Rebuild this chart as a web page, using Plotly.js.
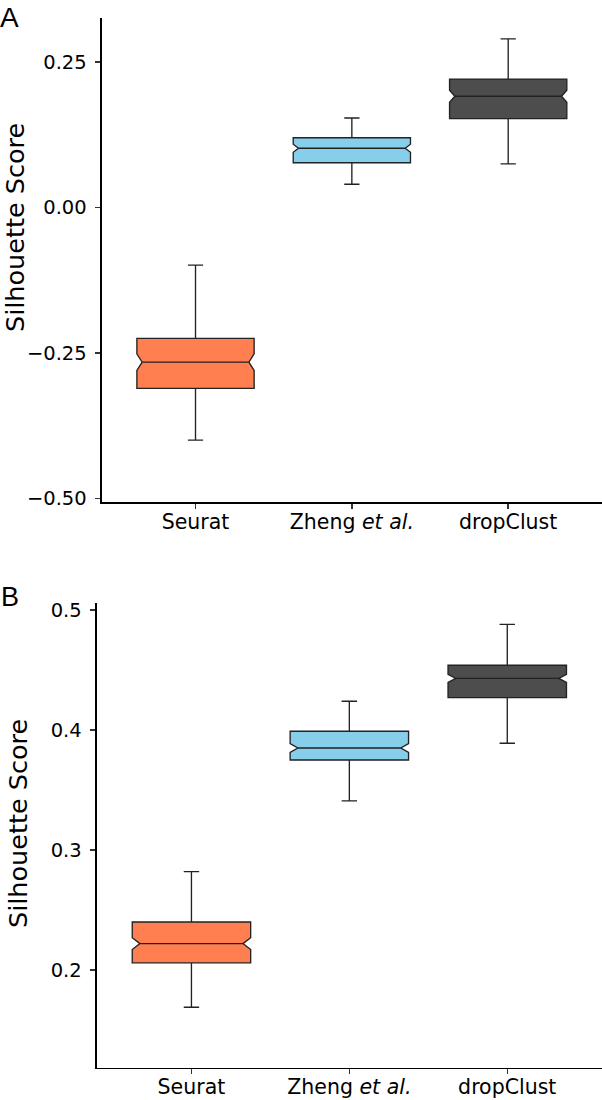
<!DOCTYPE html>
<html>
<head>
<meta charset="utf-8">
<script src="https://cdn.plot.ly/plotly-3.0.1.min.js"></script>
<style>html,body{margin:0;padding:0;background:#fff;}#chart{width:602px;height:1100px;}</style>
</head>
<body>
<div id="chart"></div>
<script>
// Categories and tick labels
const categories = ["Seurat", "Zheng <i>et al.</i>", "dropClust"];
const boxColors = ["#FF7F50", "#87CEEB", "#4D4D4D"];

// Panel A values
const lowA   = [-0.400, 0.040, 0.075];
const q1A    = [-0.311, 0.077, 0.153];
const medA   = [-0.266, 0.102, 0.1915];
const q3A    = [-0.225, 0.120, 0.221];
const upA    = [-0.099, 0.154, 0.290];
const notchA = [0.0143, 0.0069, 0.0103];
const ticksA = [-0.50, -0.25, 0.00, 0.25];

// Panel B values
const lowB   = [0.169, 0.341, 0.389];
const q1B    = [0.206, 0.375, 0.427];
const medB   = [0.222, 0.385, 0.443];
const q3B    = [0.240, 0.399, 0.454];
const upB    = [0.282, 0.424, 0.488];
const notchB = [0.0049, 0.0036, 0.0033];
const ticksB = [0.2, 0.3, 0.4, 0.5];

const traces = [];
function addBoxes(low, q1, med, q3, up, notch, xa, ya, nw) {
  categories.forEach((c, i) => {
    traces.push({
      type: "box", x: [c], xaxis: xa, yaxis: ya,
      lowerfence: [low[i]], q1: [q1[i]], median: [med[i]], q3: [q3[i]], upperfence: [up[i]],
      notched: true, notchspan: [notch[i]], notchwidth: nw,
      width: 0.75, whiskerwidth: 0.13, boxpoints: false,
      fillcolor: boxColors[i], line: {color: "#222222", width: 1.35},
      showlegend: false, hoverinfo: "skip"
    });
  });
}
addBoxes(lowA, q1A, medA, q3A, upA, notchA, "x", "y", 0.045);
addBoxes(lowB, q1B, medB, q3B, upB, notchB, "x2", "y2", 0.065);

const W = 602, H = 1100;
const tickFont = {family: "DejaVu Sans", size: 19.5, color: "#000"};
const xTickFont = {family: "DejaVu Sans", size: 20.5, color: "#000"};
function xAxis(domain, anchor) {
  return {domain: domain, anchor: anchor, type: "category", categoryorder: "array", categoryarray: categories,
    range: [-0.6, 2.6], showline: true, linecolor: "#000", linewidth: 1.6, showgrid: false, zeroline: false,
    ticks: "outside", ticklen: 5, tickwidth: 1.4, tickcolor: "#333333", tickfont: xTickFont, ticklabelstandoff: -5,
    fixedrange: true};
}
function yAxis(domain, anchor, range, ticks, fmt) {
  return {domain: domain, anchor: anchor, range: range, tickvals: ticks, tickformat: fmt, showline: true,
    linecolor: "#000", linewidth: 1.6, showgrid: false, zeroline: false,
    ticks: "outside", ticklen: 5.5, tickwidth: 1.4, tickcolor: "#333333", tickfont: tickFont, ticklabelstandoff: 4,
    fixedrange: true};
}

const layout = {
  width: W, height: H, margin: {l: 0, r: 0, t: 0, b: 0},
  paper_bgcolor: "#fff", plot_bgcolor: "#fff", boxmode: "overlay", showlegend: false,
  xaxis: xAxis([101.7 / W, 1], "y"),
  yaxis: yAxis([1 - 502.3 / H, 1 - 18 / H], "x", [-0.507, 0.326], ticksA, ".2f"),
  xaxis2: xAxis([96.7 / W, 1], "y2"),
  yaxis2: yAxis([1 - 1067.7 / H, 1 - 603.3 / H], "x2", [0.1186, 0.5056], ticksB, ".1f"),
  annotations: [
    {text: "A", xref: "paper", yref: "paper", x: -0.004, y: 1 - 17 / H, xanchor: "left", yanchor: "middle",
     showarrow: false, font: {family: "Liberation Sans", size: 28, color: "#000"}},
    {text: "B", xref: "paper", yref: "paper", x: -0.001, y: 1 - 597 / H, xanchor: "left", yanchor: "middle",
     showarrow: false, font: {family: "Liberation Sans", size: 27, color: "#000"}},
    {text: "Silhouette Score", xref: "paper", yref: "paper", x: 15 / W, y: 1 - 228 / H, xanchor: "center", yanchor: "middle",
     textangle: -90, showarrow: false, font: {family: "DejaVu Sans", size: 25.5, color: "#000"}},
    {text: "Silhouette Score", xref: "paper", yref: "paper", x: 18 / W, y: 1 - 824 / H, xanchor: "center", yanchor: "middle",
     textangle: -90, showarrow: false, font: {family: "DejaVu Sans", size: 25.5, color: "#000"}}
  ]
};

Plotly.newPlot("chart", traces, layout, {staticPlot: true, displayModeBar: false});
</script>
</body>
</html>
